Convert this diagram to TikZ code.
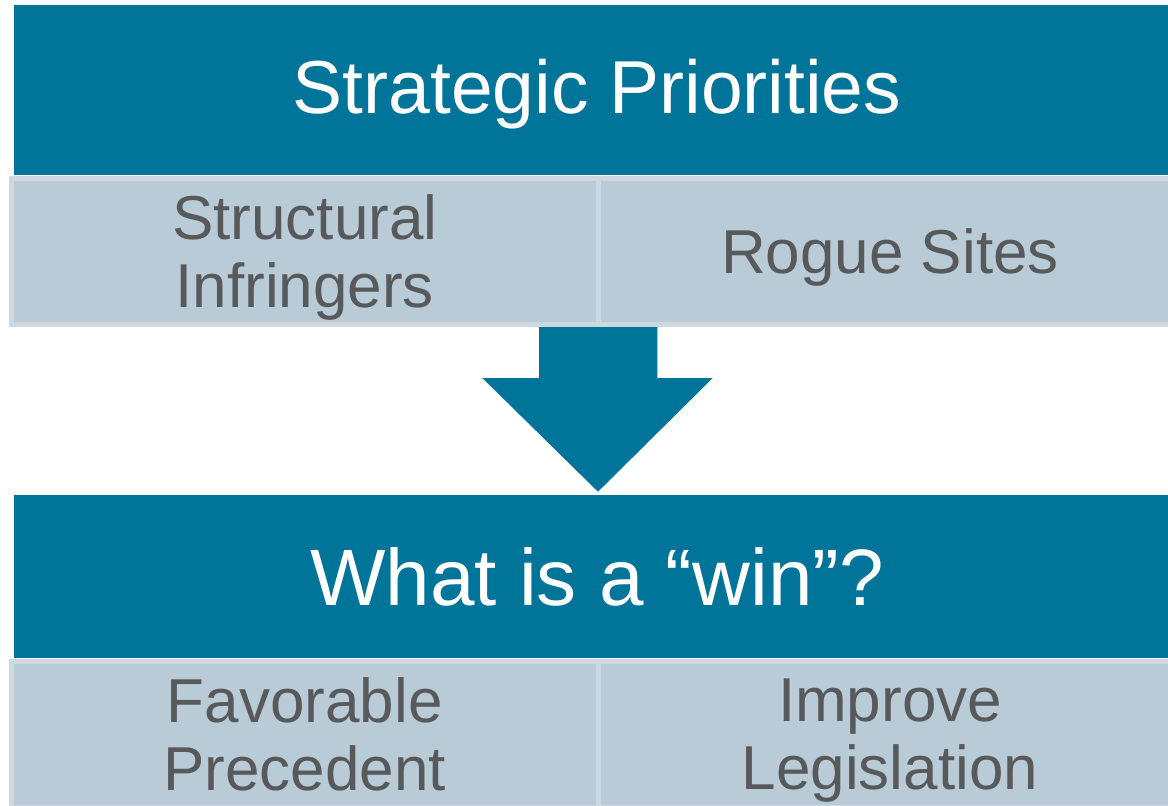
\documentclass[tikz,border=0pt]{standalone}
\usepackage{fontspec}
\setmainfont{Liberation Sans}
\usetikzlibrary{backgrounds}

\definecolor{hdrblue}{RGB}{0,116,153}
\definecolor{cellfill}{RGB}{184,203,214}
\definecolor{cellline}{RGB}{206,216,224}
\definecolor{cellgray}{RGB}{88,89,91}

\begin{document}
\begin{tikzpicture}[x=1pt,y=-1pt,
	header/.style={fill=hdrblue,text=white,inner sep=0pt,outer sep=0pt,anchor=north west,minimum width=1166pt},
	cell/.style={fill=cellfill,draw=cellline,line width=5pt,text=cellgray,align=center,
		inner sep=0pt,outer sep=0pt,anchor=north west,minimum height=146pt,text depth=0pt,
		font=\fontsize{62}{68}\selectfont},
	bigarrow/.style={fill=hdrblue,draw=white,line width=1.5pt}]
	\useasboundingbox (0,0) rectangle (1168,806);
	\clip (0,0) rectangle (1168,806);
	% top block
	\node[header,minimum height=170pt,text depth=8pt,font=\fontsize{75}{80}\selectfont] (prio) at (14,5) {Strategic Priorities};
	\node[cell,minimum width=586.5pt] (struct) at (11.5,178.5) {Structural\\Infringers};
	\node[cell,minimum width=584pt] (rogue) at (598,178.5) {Rogue Sites};
	% bottom block
	\node[header,minimum height=163pt,font=\fontsize{80}{86}\selectfont] (win) at (14,495) {What is a “win”?};
	\node[cell,minimum width=586.5pt] (prec) at (11.5,661.5) {Favorable\\Precedent};
	\node[cell,minimum width=584pt] (legis) at (598,661.5) {Improve\\Legislation};
	% arrow between the blocks
	\coordinate (tip) at ([yshift=2pt]win.north -| struct.south east);
	\begin{scope}[on background layer]
		\draw[bigarrow] (tip) -- ++(-118,-116) -- ++(58,0) -- ++(0,-52) -- ++(120,0)
			-- ++(0,52) -- ++(57,0) -- cycle;
	\end{scope}
\end{tikzpicture}
\end{document}
